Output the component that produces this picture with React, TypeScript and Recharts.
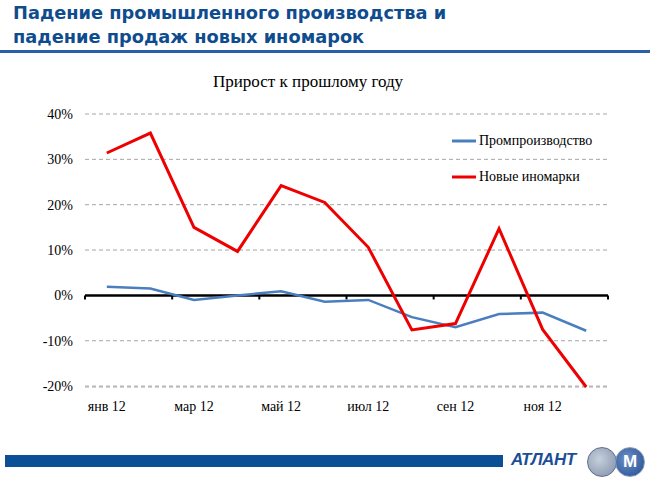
import React from "react";
import {
  LineChart,
  Line,
  XAxis,
  YAxis,
  CartesianGrid,
  ReferenceLine,
} from "recharts";

const months = ["янв 12", "фев 12", "мар 12", "апр 12", "май 12", "июн 12", "июл 12", "авг 12", "сен 12", "окт 12", "ноя 12", "дек 12"];
const industry = [1.9, 1.5, -1.0, 0.0, 0.9, -1.4, -1.0, -4.8, -7.0, -4.1, -3.8, -7.8];
const newCars = [31.4, 35.8, 15.0, 9.7, 24.2, 20.5, 10.6, -7.6, -6.2, 14.7, -7.5, -20.2];
const yTicks = [-20, -10, 0, 10, 20, 30, 40];
const labelTicks = [0, 2, 4, 6, 8, 10];
const boundaries = [-0.5, 1.5, 3.5, 5.5, 7.5, 9.5, 11.5];

const seriesNames = ["Промпроизводство", "Новые иномарки"];
const seriesColors = ["#4a7ebf", "#ee0000"];

const data = months.map((m, i) => ({ idx: i, month: m, industry: industry[i], newCars: newCars[i] }));

const serif = "'Liberation Serif', 'Times New Roman', serif";

const LegendBox = () => (
  <div style={{ position: "absolute", left: 452, top: 131, fontFamily: serif, fontSize: 14, color: "#000" }}>
    {seriesNames.map((n, i) => (
      <div key={n} style={{ display: "flex", alignItems: "center", height: 20, marginBottom: i === 0 ? 16 : 0 }}>
        <svg width={25} height={6} style={{ marginRight: 2 }}>
          <line x1={0} y1={3} x2={24} y2={3} stroke={seriesColors[i]} strokeWidth={3} />
        </svg>
        <span>{n}</span>
      </div>
    ))}
  </div>
);

export default function App() {
  return (
    <div style={{ position: "absolute", left: 0, top: 0, width: 650, height: 485, background: "#fff", overflow: "hidden" }}>
      <div
        style={{
          position: "absolute",
          left: 13,
          top: 1,
          fontFamily: "'DejaVu Sans', Verdana, sans-serif",
          fontWeight: "bold",
          fontSize: 17.8,
          lineHeight: "24px",
          color: "#0f4c8e",
          whiteSpace: "nowrap",
        }}
      >
        <div>Падение промышленного производства и</div>
        <div>падение продаж новых иномарок</div>
      </div>
      <div style={{ position: "absolute", left: 0, top: 50, width: 650, height: 3, background: "#2b5fa6" }} />
      <div
        style={{
          position: "absolute",
          left: 213,
          top: 72,
          fontFamily: serif,
          fontSize: 17,
          color: "#000",
          whiteSpace: "nowrap",
        }}
      >
        Прирост к прошлому году
      </div>
      <div style={{ position: "absolute", left: 0, top: 0 }}>
        <LineChart width={650} height={485} data={data} margin={{ top: 114, right: 42, bottom: 68, left: 25 }}>
          <CartesianGrid vertical={false} horizontal stroke="#a6a6a6" strokeDasharray="4 3" />
          <XAxis
            dataKey="idx"
            type="number"
            domain={[-0.5, 11.5]}
            ticks={labelTicks}
            tickFormatter={(v: number) => months[v]}
            axisLine={false}
            tickLine={false}
            tickSize={6}
            tickMargin={8}
            height={30}
            interval={0}
            tick={{ fontFamily: serif, fontSize: 14, fill: "#000" }}
          />
          <YAxis
            type="number"
            domain={[-20, 40]}
            ticks={yTicks}
            tickFormatter={(v: number) => `${v}%`}
            axisLine={false}
            tickLine={false}
            tickSize={6}
            tickMargin={6}
            width={60}
            interval={0}
            tick={{ fontFamily: serif, fontSize: 14, fill: "#000" }}
          />
          <ReferenceLine y={0} stroke="#000" strokeWidth={2.5} />
          {boundaries.map((b) => (
            <ReferenceLine
              key={b}
              segment={[{ x: b, y: 0 }, { x: b, y: -0.9 }]}
              stroke="#000"
              strokeWidth={2}
            />
          ))}
          <Line
            type="linear"
            dataKey="industry"
            name={seriesNames[0]}
            stroke={seriesColors[0]}
            strokeWidth={2.5}
            dot={false}
            activeDot={false}
            isAnimationActive={false}
          />
          <Line
            type="linear"
            dataKey="newCars"
            name={seriesNames[1]}
            stroke={seriesColors[1]}
            strokeWidth={3}
            dot={false}
            activeDot={false}
            isAnimationActive={false}
          />
        </LineChart>
      </div>
      <LegendBox />
      <div style={{ position: "absolute", left: 5, top: 455, width: 498, height: 12, background: "#0b4f97" }} />
      <div
        style={{
          position: "absolute",
          left: 511,
          top: 450,
          fontFamily: "'Liberation Sans', Arial, sans-serif",
          fontWeight: "bold",
          fontStyle: "italic",
          fontSize: 17,
          color: "#1a4f97",
          letterSpacing: -0.5,
        }}
      >
        АТЛАНТ
      </div>
      <div
        style={{
          position: "absolute",
          left: 587,
          top: 447,
          width: 30,
          height: 30,
          borderRadius: 15,
          background: "radial-gradient(circle at 40% 40%, #c6cfdc, #7f8ea6)",
          border: "1px solid #5d6f8c",
          boxSizing: "border-box",
        }}
      />
      <div
        style={{
          position: "absolute",
          left: 615,
          top: 447,
          width: 30,
          height: 30,
          borderRadius: 15,
          background: "radial-gradient(circle at 40% 40%, #6f8fc4, #1d4c93)",
          border: "1px solid #8a9bb5",
          boxSizing: "border-box",
          color: "#fff",
          fontFamily: "'Liberation Sans', Arial, sans-serif",
          fontWeight: "bold",
          fontSize: 17,
          textAlign: "center",
          lineHeight: "28px",
        }}
      >
        М
      </div>
    </div>
  );
}
